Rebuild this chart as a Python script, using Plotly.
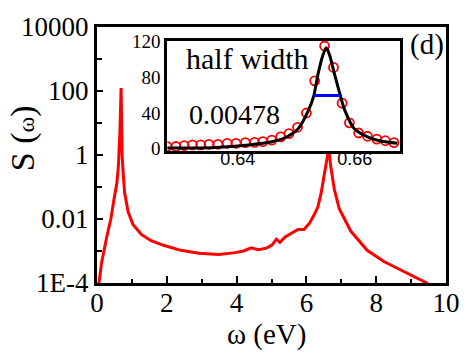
import plotly.graph_objects as go

# ---- main spectrum S(omega) ----
omega = [0.05, 0.13, 0.275, 0.40, 0.49, 0.57, 0.61, 0.63, 0.66, 0.69, 0.72, 0.75,
         0.79, 0.89, 1.03, 1.27, 1.55, 1.93, 2.40, 2.92, 3.49, 3.96, 4.20, 4.42,
         4.62, 4.86, 5.02, 5.14, 5.24, 5.40, 5.62, 5.76, 5.93, 6.09, 6.23, 6.33,
         6.42, 6.52, 6.59, 6.64, 6.70, 6.80, 6.94, 7.27, 7.74, 8.22, 8.69, 9.16,
         9.45, 9.55]
S = [8.9e-5, 4.2e-4, 2.6e-3, 1.05e-2, 4.3e-2, 0.135, 0.40, 1.26, 6.3, 123, 1.0, 0.27,
     0.068, 0.017, 6.8e-3, 3.3e-3, 2.1e-3, 1.48e-3, 1.05e-3, 8.5e-4, 7.8e-4, 8.9e-4, 1.0e-3, 1.26e-3,
     1.10e-3, 1.23e-3, 1.55e-3, 2.35e-3, 1.86e-3, 2.8e-3, 3.9e-3, 4.7e-3, 4.7e-3, 7.4e-3, 1.4e-2, 2.4e-2,
     6.3e-2, 0.27, 0.85, 1.6, 0.42, 0.085, 0.021, 4.2e-3, 1.05e-3, 4.7e-4, 2.6e-4, 1.48e-4,
     1.0e-4, 7.9e-5]

y_tickvals = [1e-4, 1e-2, 1, 100, 1e4]
y_ticktext = ["1E-4", "0.01", "1", "100", "10000"]
y_minor = [1e-3, 0.1, 10, 1000]
x_ticks = [0, 2, 4, 6, 8, 10]
x_minor = [1, 3, 5, 7, 9]

# ---- inset: data points ----
ins_x = [0.62791, 0.62944, 0.63085, 0.63226, 0.63367, 0.63508, 0.63661, 0.63819, 0.63972,
         0.64130, 0.64288, 0.64429, 0.64582, 0.64734, 0.64876, 0.65023, 0.65175, 0.65316,
         0.65486, 0.65638, 0.65785, 0.65910, 0.66068, 0.66220, 0.66379, 0.66525, 0.66672]
ins_y = [2.5, 2.5, 3.6, 4.3, 4.3, 5.0, 5.0, 6.1, 6.1,
         6.9, 7.2, 7.9, 9.7, 13.3, 17, 24, 40, 76,
         115, 91, 51, 29, 17.6, 14, 10.8, 9, 6.9]

# ---- inset: fit curve ----
fit_x = [0.62775, 0.63622, 0.64186, 0.64582, 0.64808, 0.65034, 0.65203, 0.65300, 0.65373,
         0.65458, 0.65514, 0.65571, 0.65655, 0.65757, 0.65825, 0.65994, 0.66220, 0.66446, 0.66729]
fit_y = [0.7, 1.4, 4.3, 7.9, 12.3, 22.3, 42, 59, 83.6,
         105, 113, 105, 83.6, 59, 44, 22.3, 13.3, 8.6, 6.1]

# ---- half width marker ----
hw_x = [0.65300, 0.65778]
hw_y = [59.5, 59.5]

ins_xticks = [0.64, 0.66]
ins_yticks = [0, 40, 80, 120]

serif = "'Liberation Serif', 'Times New Roman', Times, serif"
sans = "'Liberation Sans', Arial, sans-serif"

fig = go.Figure()
fig.add_trace(go.Scatter(x=omega, y=S, mode="lines",
                         line=dict(color="#ff0000", width=3), xaxis="x", yaxis="y"))
fig.add_trace(go.Scatter(x=ins_x, y=ins_y, mode="markers",
                         marker=dict(symbol="circle-open", size=9, color="#ff0000",
                                     line=dict(width=1.8, color="#ff0000")),
                         xaxis="x2", yaxis="y2"))
fig.add_trace(go.Scatter(x=fit_x, y=fit_y, mode="lines",
                         line=dict(color="black", width=3, shape="spline", smoothing=0.8),
                         xaxis="x2", yaxis="y2"))
fig.add_trace(go.Scatter(x=hw_x, y=hw_y, mode="lines",
                         line=dict(color="#0000ff", width=3), xaxis="x2", yaxis="y2"))

axis_common = dict(showline=True, linewidth=3, linecolor="black", mirror=True,
                   showgrid=False, zeroline=False)

fig.update_layout(
    width=472, height=354,
    margin=dict(l=97, r=23, t=18, b=71),
    paper_bgcolor="white", plot_bgcolor="white",
    showlegend=False,
    xaxis=dict(range=[0, 10], tickmode="array", tickvals=x_ticks,
               ticks="inside", ticklen=7, tickwidth=2, tickcolor="black",
               ticklabelstandoff=-6,
               tickfont=dict(family=serif, size=27, color="black"),
               minor=dict(tickmode="array", tickvals=x_minor, ticks="inside",
                          ticklen=4, tickwidth=2, tickcolor="black"),
               **axis_common),
    yaxis=dict(type="log", range=[-4, 4], tickmode="array",
               tickvals=y_tickvals, ticktext=y_ticktext,
               ticks="inside", ticklen=6, tickwidth=2, tickcolor="black",
               tickfont=dict(family=serif, size=27, color="black"),
               minor=dict(tickmode="array", tickvals=y_minor, ticks="inside",
                          ticklen=5, tickwidth=2, tickcolor="black"),
               **axis_common),
    xaxis2=dict(domain=[0.2017, 0.869], anchor="y2", range=[0.62797, 0.6678],
                tickmode="array", tickvals=ins_xticks, ticktext=["0.64", "0.66"],
                ticks="", ticklabelstandoff=-11,
                tickfont=dict(family=sans, size=18, color="black"),
                **axis_common),
    yaxis2=dict(domain=[0.515, 0.945], anchor="x2", range=[-2.7, 120.5],
                tickmode="array", tickvals=ins_yticks, ticks="",
                tickfont=dict(family=serif, size=19, color="black"),
                **axis_common),
    annotations=[
        dict(text="(d)", x=0.946, y=0.933, xref="paper", yref="paper",
             xanchor="center", yanchor="middle",
             showarrow=False, font=dict(family=serif, size=29, color="black")),
        dict(text="half width", x=0.43, y=0.877, xref="paper", yref="paper",
             xanchor="center", yanchor="middle",
             showarrow=False, font=dict(family=serif, size=30, color="black")),
        dict(text="0.00478", x=0.395, y=0.66, xref="paper", yref="paper",
             xanchor="center", yanchor="middle",
             showarrow=False, font=dict(family=serif, size=28, color="black")),
        dict(text="S (<span style='font-size:24px'>ω</span>)", x=-0.213, y=0.564,
             xref="paper", yref="paper", textangle=-90, showarrow=False,
             xanchor="center", yanchor="middle",
             font=dict(family=serif, size=34, color="black")),
        dict(text="ω (eV)", x=0.486, y=-0.203, xref="paper", yref="paper",
             xanchor="center", yanchor="middle",
             showarrow=False, font=dict(family=serif, size=29, color="black")),
    ],
)

fig.write_html("out.html")
